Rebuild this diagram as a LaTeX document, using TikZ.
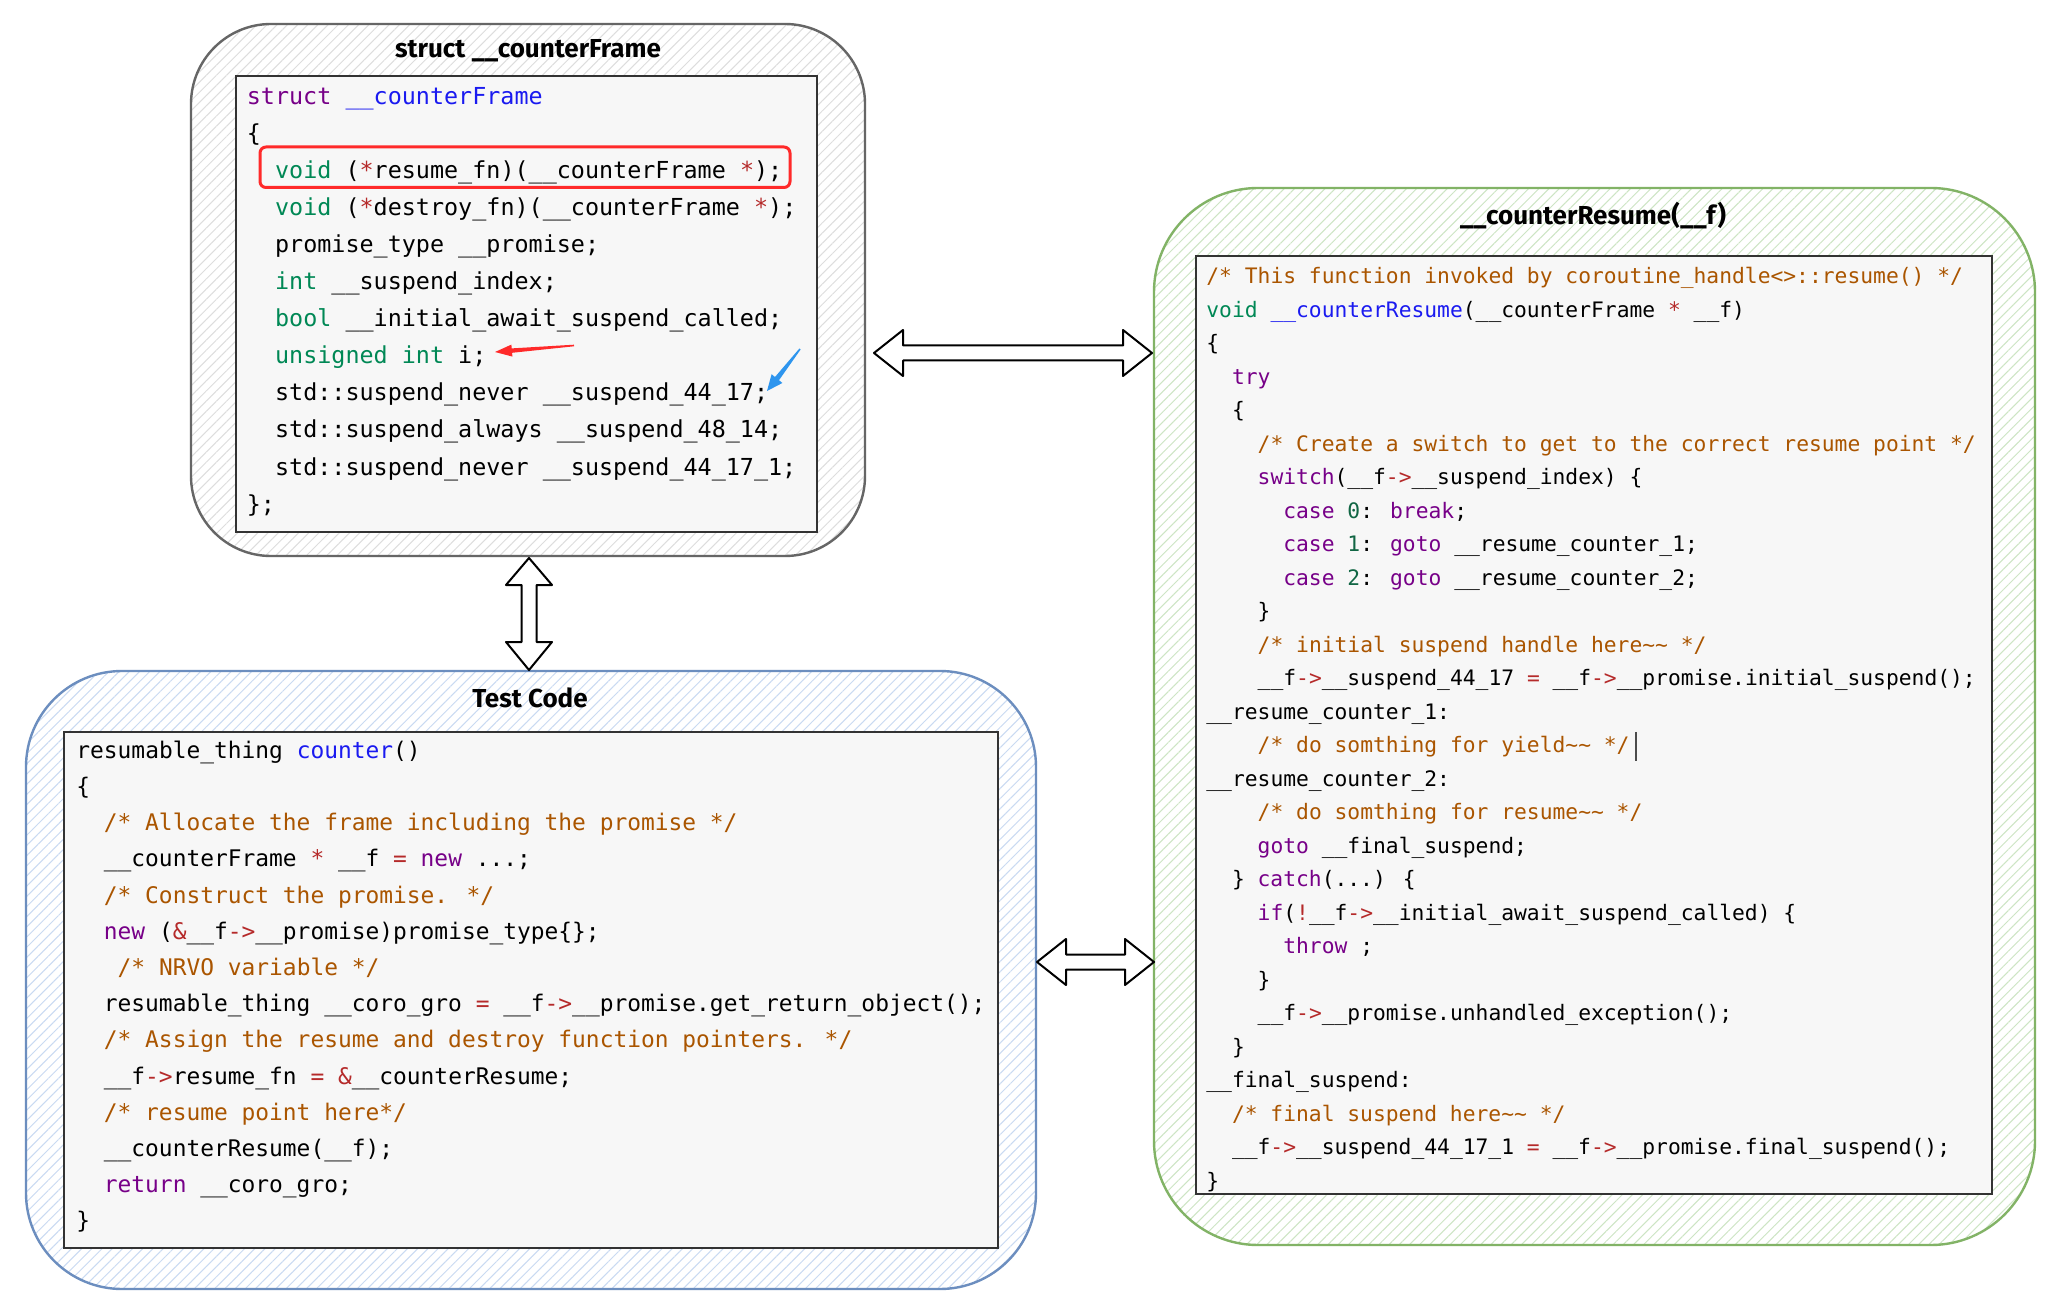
\documentclass[tikz,border=0pt]{standalone}
\usepackage{fontspec}
\usetikzlibrary{patterns.meta,fit,calc}
\newfontfamily\codefont{DejaVu Sans Mono}
\newfontfamily\titlefont{Fira Sans}
\definecolor{ckw}{HTML}{770088}
\definecolor{cty}{HTML}{008855}
\definecolor{cfn}{HTML}{1A1AF0}
\definecolor{ccm}{HTML}{AA5500}
\definecolor{cop}{HTML}{B52A2A}
\definecolor{cnum}{HTML}{116644}
\definecolor{codebg}{HTML}{F7F7F7}
\definecolor{grayedge}{HTML}{666666}
\definecolor{greenedge}{HTML}{82B366}
\definecolor{blueedge}{HTML}{6C8EBF}
\definecolor{grayhatch}{HTML}{DDDDDD}
\definecolor{greenhatch}{HTML}{CDE5C4}
\definecolor{bluehatch}{HTML}{C9DAF2}
\definecolor{redmark}{HTML}{FF2A2A}
\definecolor{bluemark}{HTML}{2E95EE}
\newcommand\K[1]{\textcolor{ckw}{#1}}
\newcommand\T[1]{\textcolor{cty}{#1}}
\newcommand\F[1]{\textcolor{cfn}{#1}}
\newcommand\C[1]{\textcolor{ccm}{#1}}
\newcommand\Op[1]{\textcolor{cop}{#1}}
\newcommand\N[1]{\textcolor{cnum}{#1}}
\tikzset{
  frame/.style={draw, line width=1.2pt, inner sep=0pt},
  codebox/.style={draw=black!80, fill=codebg, line width=1pt, inner sep=0pt},
  tline/.style={anchor=mid west, inner sep=0pt, font=\codefont\fontsize{11.7pt}{14pt}\selectfont},
  bline/.style={anchor=mid west, inner sep=0pt, font=\codefont\fontsize{11.44pt}{14pt}\selectfont},
  rline/.style={anchor=mid west, inner sep=0pt, font=\codefont\fontsize{10.65pt}{13pt}\selectfont},
  ttl/.style={inner sep=0pt, font=\titlefont\bfseries\fontsize{13pt}{15pt}\selectfont},
  fat/.style={draw=black, fill=white, line width=1pt, line join=round},
}
\newcommand\fatH[2]{\draw[fat] (#1) -- ($(#1)+(29,-23)$) -- ($(#1)+(29,-7.5)$) -- ($(#2)+(-29,-7.5)$) -- ($(#2)+(-29,-23)$) -- (#2) -- ($(#2)+(-29,23)$) -- ($(#2)+(-29,7.5)$) -- ($(#1)+(29,7.5)$) -- ($(#1)+(29,23)$) -- cycle;}
\newcommand\fatV[2]{\draw[fat] (#1) -- ($(#1)+(23,27)$) -- ($(#1)+(7.5,27)$) -- ($(#2)+(7.5,-28)$) -- ($(#2)+(23,-28)$) -- (#2) -- ($(#2)+(-23,-28)$) -- ($(#2)+(-7.5,-28)$) -- ($(#1)+(-7.5,27)$) -- ($(#1)+(-23,27)$) -- cycle;}
\begin{document}
\catcode`\_=12
\begin{tikzpicture}[x=0.5pt,y=-0.5pt]
\useasboundingbox (0,0) rectangle (2057,1310);
\fill[white] (0,0) rectangle (2057,1310);

% ---------- frames ----------
\node (topF) [frame, draw=grayedge, rounded corners=40pt, pattern={Lines[angle=45,distance=3.6pt,line width=0.5pt]}, pattern color=grayhatch, fit={(191,24) (865,556)}] {};
\node (rightF) [frame, draw=greenedge, rounded corners=52pt, pattern={Lines[angle=45,distance=3.6pt,line width=0.5pt]}, pattern color=greenhatch, fit={(1154,188) (2035,1245)}] {};
\node (botF) [frame, draw=blueedge, rounded corners=48pt, pattern={Lines[angle=45,distance=3.6pt,line width=0.5pt]}, pattern color=bluehatch, fit={(26,671) (1036,1289)}] {};

% ---------- titles ----------
\node (topT) [ttl] at (528,51) {struct __counterFrame};
\node (rightT) [ttl] at (1593,216) {__counterResume(__f)};
\node (botT) [ttl] at (530,698) {Test Code};

% ---------- code boxes ----------
\node (topB) [codebox, fit={(236,76) (817,532)}] {};
\node (rightB) [codebox, fit={(1196,256) (1992,1194)}] {};
\node (botB) [codebox, fit={(64,732) (998,1248)}] {};

\begin{scope}[yshift=-2pt]
% ---------- top code ----------
\node[tline] (t0) at (246.5,95.7) {\K{struct} \F{__counterFrame}};
\node[tline] (t1) at (246.5,132.8) {\{};
\node[tline] (t2) at (274.7,169.9) {\T{void} (\Op{*}resume_fn)(__counterFrame \Op{*});};
\node[tline] (t3) at (274.7,207.0) {\T{void} (\Op{*}destroy_fn)(__counterFrame \Op{*});};
\node[tline] (t4) at (274.7,244.1) {promise_type __promise;};
\node[tline] (t5) at (274.7,281.2) {\T{int} __suspend_index;};
\node[tline] (t6) at (274.7,318.3) {\T{bool} __initial_await_suspend_called;};
\node[tline] (t7) at (274.7,355.4) {\T{unsigned int} i;};
\node[tline] (t8) at (274.7,392.5) {std::suspend_never __suspend_44_17;};
\node[tline] (t9) at (274.7,429.6) {std::suspend_always __suspend_48_14;};
\node[tline] (t10) at (274.7,466.7) {std::suspend_never __suspend_44_17_1;};
\node[tline] (t11) at (246.5,503.8) {\};};

% ---------- bottom code ----------
\node[bline] (b0) at (76,750) {resumable_thing \F{counter}()};
\node[bline] (b1) at (76,786.2) {\{};
\node[bline] (b2) at (103.5,822.4) {\C{/* Allocate the frame including the promise */}};
\node[bline] (b3) at (103.5,858.6) {__counterFrame \Op{*} __f \Op{=} \K{new} ...;};
\node[bline] (b4) at (103.5,894.8) {\C{/* Construct the promise. */}};
\node[bline] (b5) at (103.5,931.0) {\K{new} (\Op{\&}__f\Op{->}__promise)promise_type\{\};};
\node[bline] (b6) at (117.3,967.2) {\C{/* NRVO variable */}};
\node[bline] (b7) at (103.5,1003.4) {resumable_thing __coro_gro \Op{=} __f\Op{->}__promise.get_return_object();};
\node[bline] (b8) at (103.5,1039.6) {\C{/* Assign the resume and destroy function pointers. */}};
\node[bline] (b9) at (103.5,1075.8) {__f\Op{->}resume_fn \Op{=} \Op{\&}__counterResume;};
\node[bline] (b10) at (103.5,1112.0) {\C{/* resume point here*/}};
\node[bline] (b11) at (103.5,1148.2) {__counterResume(__f);};
\node[bline] (b12) at (103.5,1184.4) {\K{return} __coro_gro;};
\node[bline] (b13) at (76,1220.6) {\}};

% ---------- right code ----------
\node[rline] (r0) at (1206,275.3) {\C{/* This function invoked by coroutine_handle<>::resume() */}};
\node[rline] (r1) at (1206,308.8) {\T{void} \F{__counterResume}(__counterFrame \Op{*} __f)};
\node[rline] (r2) at (1206,342.3) {\{};
\node[rline] (r3) at (1231.6,375.8) {\K{try}};
\node[rline] (r4) at (1231.6,409.3) {\{};
\node[rline] (r5) at (1257.3,442.8) {\C{/* Create a switch to get to the correct resume point */}};
\node[rline] (r6) at (1257.3,476.3) {\K{switch}(__f\Op{->}__suspend_index) \{};
\node[rline] (r7) at (1282.9,509.8) {\K{case} \N{0}: \K{break};};
\node[rline] (r8) at (1282.9,543.3) {\K{case} \N{1}: \K{goto} __resume_counter_1;};
\node[rline] (r9) at (1282.9,576.8) {\K{case} \N{2}: \K{goto} __resume_counter_2;};
\node[rline] (r10) at (1257.3,610.3) {\}};
\node[rline] (r11) at (1257.3,643.8) {\C{/* initial suspend handle here\string~\string~ */}};
\node[rline] (r12) at (1257.3,677.3) {__f\Op{->}__suspend_44_17 \Op{=} __f\Op{->}__promise.initial_suspend();};
\node[rline] (r13) at (1206,710.8) {__resume_counter_1:};
\node[rline] (r14) at (1257.3,744.3) {\C{/* do somthing for yield\string~\string~ */}};
\node[rline] (r15) at (1206,777.8) {__resume_counter_2:};
\node[rline] (r16) at (1257.3,811.3) {\C{/* do somthing for resume\string~\string~ */}};
\node[rline] (r17) at (1257.3,844.8) {\K{goto} __final_suspend;};
\node[rline] (r18) at (1231.6,878.3) {\} \K{catch}(...) \{};
\node[rline] (r19) at (1257.3,911.8) {\K{if}(\Op{!}__f\Op{->}__initial_await_suspend_called) \{};
\node[rline] (r20) at (1282.9,945.3) {\K{throw} ;};
\node[rline] (r21) at (1257.3,978.8) {\}};
\node[rline] (r22) at (1257.3,1012.3) {__f\Op{->}__promise.unhandled_exception();};
\node[rline] (r23) at (1231.6,1045.8) {\}};
\node[rline] (r24) at (1206,1079.3) {__final_suspend:};
\node[rline] (r25) at (1231.6,1112.8) {\C{/* final suspend here\string~\string~ */}};
\node[rline] (r26) at (1231.6,1146.3) {__f\Op{->}__suspend_44_17_1 \Op{=} __f\Op{->}__promise.final_suspend();};
\node[rline] (r27) at (1206,1179.8) {\}};
\draw[black!70, line width=0.6pt] ($(r14.east)+(6,-15)$) -- ($(r14.east)+(6,14)$);
\end{scope}

% ---------- markers in the struct ----------
\node (rb) [draw=redmark, line width=1.5pt, rounded corners=3pt, inner sep=0pt, fit={(260,147) (790,187.5)}] {};
\fill[redmark] (495,352) -- (511.4,344.6) -- (511.7,348.4) -- (573.9,344.7) -- (574.1,346.3) -- (512.1,352.8) -- (512.4,356.6) -- cycle;
\fill[bluemark] (767,391) -- (771.6,374.2) -- (775,377) -- (799.4,348.5) -- (800.6,349.5) -- (779,380.2) -- (782.4,383) -- cycle;

% ---------- connectors ----------
\coordinate (hA) at (874,353);
\coordinate (hB) at (1152,353);
\coordinate (vA) at (529,558);
\coordinate (vB) at (529,670);
\coordinate (lA) at (1037,962);
\coordinate (lB) at (1154,962);
\fatH{hA}{hB}
\fatV{vA}{vB}
\fatH{lA}{lB}
\end{tikzpicture}
\end{document}
